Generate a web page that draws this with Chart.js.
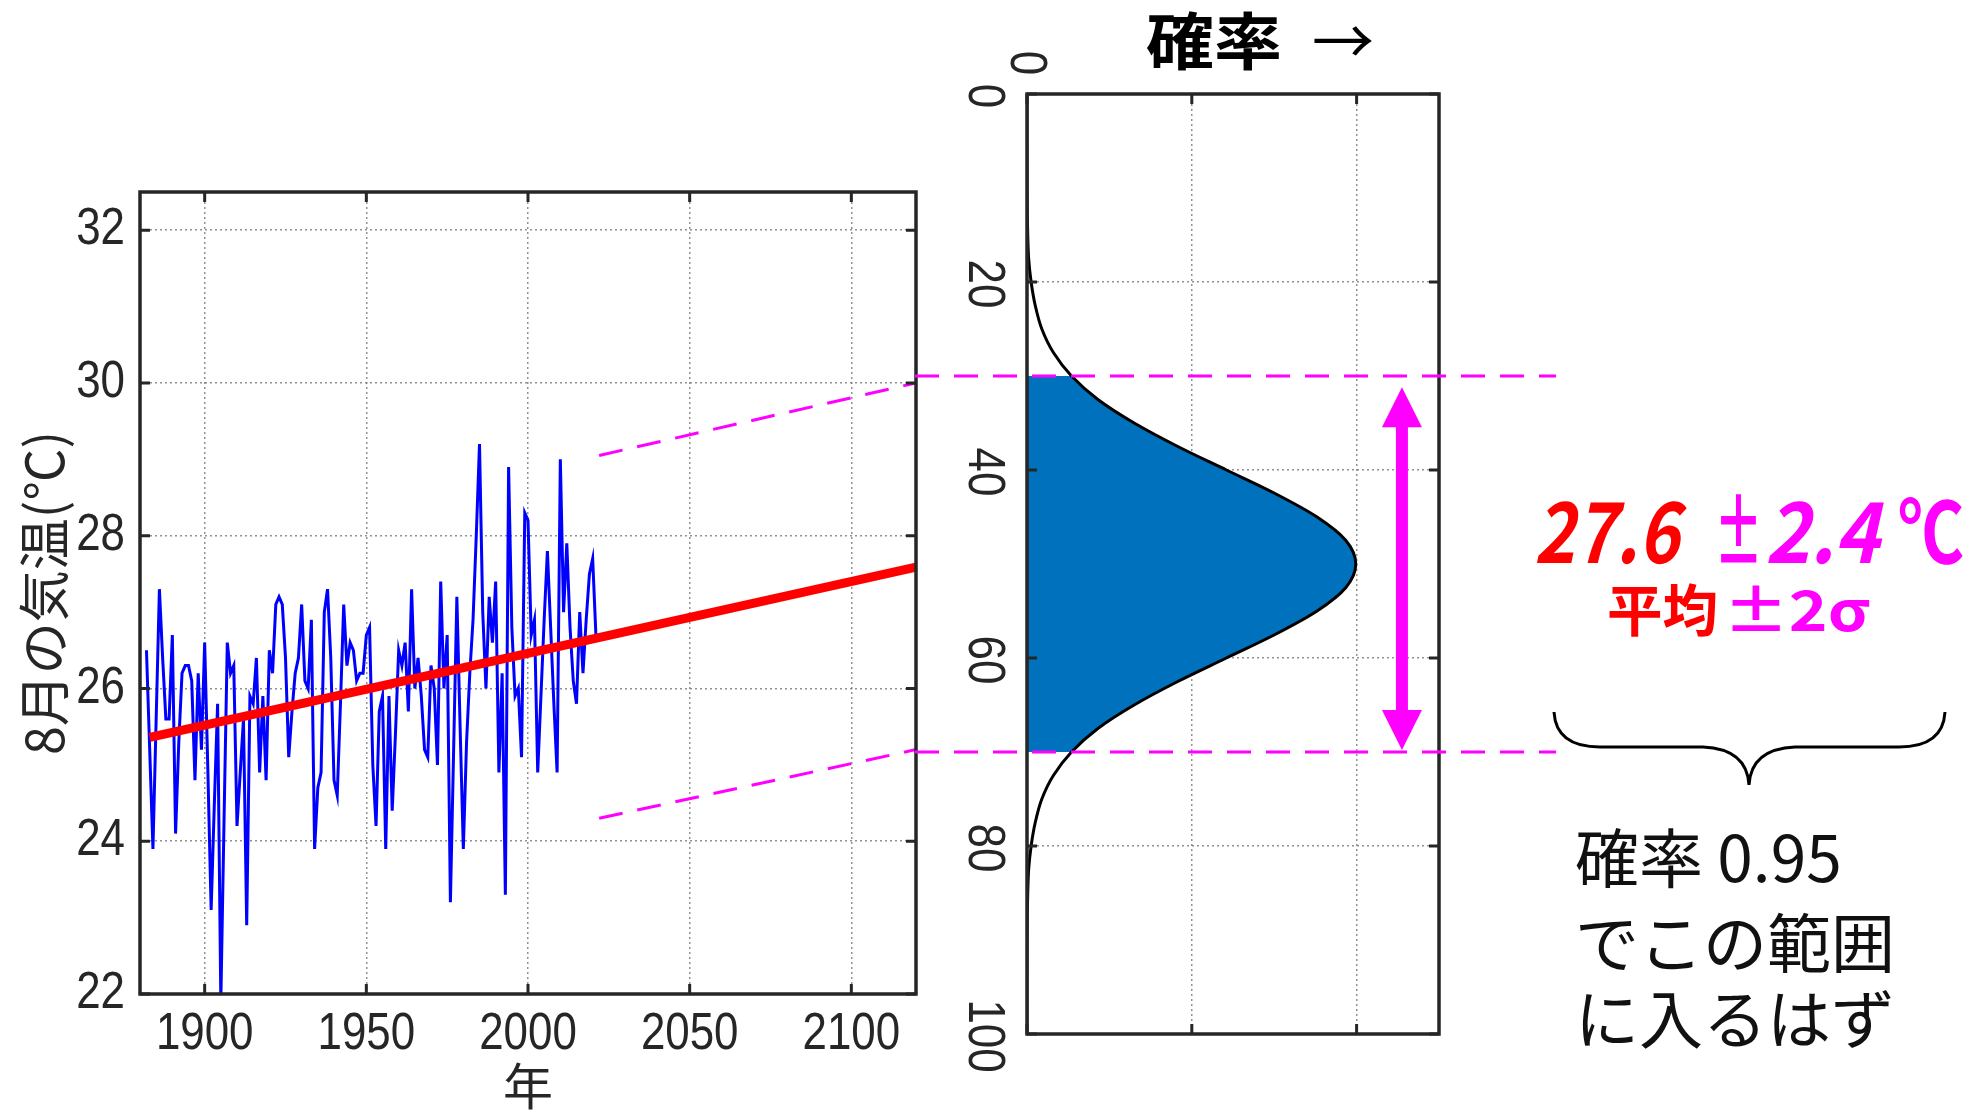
<!DOCTYPE html>
<html><head><meta charset="utf-8">
<script src="https://cdn.jsdelivr.net/npm/chart.js@4.4.0/dist/chart.umd.min.js"></script>
<style>
html,body{margin:0;padding:0;background:#fff;}
#wrap{position:relative;width:1984px;height:1111px;overflow:hidden;background:#fff;}
canvas{position:absolute;left:0;top:0;}
</style></head><body>
<div id="wrap"><canvas id="c1" width="1984" height="1111"></canvas><canvas id="c2" width="1984" height="1111"></canvas></div>
<script>
// ---------------- data ----------------
const years = [
1882,1883,1884,1885,1886,1887,1888,1889,1890,1891,
1892,1893,1894,1895,1896,1897,1898,1899,1900,1901,
1902,1903,1904,1905,1906,1907,1908,1909,1910,1911,
1912,1913,1914,1915,1916,1917,1918,1919,1920,1921,
1922,1923,1924,1925,1926,1927,1928,1929,1930,1931,
1932,1933,1934,1935,1936,1937,1938,1939,1940,1941,
1942,1943,1944,1945,1946,1947,1948,1949,1950,1951,
1952,1953,1954,1955,1956,1957,1958,1959,1960,1961,
1962,1963,1964,1965,1966,1967,1968,1969,1970,1971,
1972,1973,1974,1975,1976,1977,1978,1979,1980,1981,
1982,1983,1984,1985,1986,1987,1988,1989,1990,1991,
1992,1993,1994,1995,1996,1997,1998,1999,2000,2001,
2002,2003,2004,2005,2006,2007,2008,2009,2010,2011,
2012,2013,2014,2015,2016,2017,2018,2019,2020,2021];
const augTemp = [
26.5,25.2,23.9,25.6,27.3,26.4,25.6,25.6,26.7,24.1,
25.3,26.2,26.3,26.3,26.1,24.8,26.2,25.2,26.6,24.9,
23.1,24.5,25.8,21.9,24.3,26.6,26.2,26.3,24.2,24.9,
25.6,22.9,25.9,25.8,26.4,24.9,25.9,24.8,26.5,26.2,
27.1,27.2,27.1,26.4,25.1,25.7,26.2,26.4,27.1,26.1,
26.0,26.9,23.9,24.7,24.9,27.0,27.3,26.4,24.8,24.6,
25.8,27.1,26.3,26.6,26.5,26.1,26.2,26.2,26.7,26.8,
25.0,24.2,25.7,25.9,23.9,25.9,24.4,25.4,26.5,26.3,
26.6,25.7,27.3,26.0,26.4,25.9,25.2,25.1,26.3,26.0,
25.0,27.4,26.0,26.7,23.2,25.2,27.2,25.5,23.9,25.3,
26.2,26.9,28.0,29.2,27.0,26.0,27.2,26.6,27.4,24.9,
26.2,23.3,28.9,26.8,25.9,26.0,25.1,28.3,28.2,26.7,
26.9,24.9,25.9,26.9,27.8,26.8,25.8,24.9,29.0,27.0,
27.9,26.8,26.1,25.8,27.0,26.2,26.9,27.5,27.7,26.7];
const trendYears = [1883, 2120];
const trendTemp  = [25.36, 27.59];
const bandYears  = [2022, 2120];
const bandUpper  = [29.05, 30.0];
const bandLower  = [24.3, 25.2];
const yearTicks  = [1900, 1950, 2000, 2050, 2100];
const tempTicks  = [22, 24, 26, 28, 30, 32];

const probPos = [0,2.5,5,7.5,10,12.5,15,17.5,20,22.5,25,27.5,30,32.5,35,37.5,40,42.5,45,47.5,50,
                 52.5,55,57.5,60,62.5,65,67.5,70,72.5,75,77.5,80,82.5,85,87.5,90,92.5,95,97.5,100];
const probDensity = [0,0,0.000002,0.000005,0.000013,0.000035,0.00009,0.0002,0.0005,0.001,0.0018,0.0032,
                 0.0054,0.0086,0.0130,0.0183,0.0242,0.0301,0.0352,0.0387,0.0399,
                 0.0387,0.0352,0.0301,0.0242,0.0183,0.0130,0.0086,0.0054,0.0032,0.0018,0.001,
                 0.0005,0.0002,0.00009,0.000035,0.000013,0.000005,0.000002,0,0];
const probTicks    = [0, 20, 40, 60, 80, 100];
const densityTicks = [0, 0.02, 0.04];
const rangeLow = 30, rangeHigh = 70;

// ---------------- helpers ----------------
const INK = '#262626';
const GRID = 'rgba(110,110,110,0.75)';
const TICKFONT = '51px "Liberation Sans", Arial, sans-serif';
const JP = '"Noto Sans CJK JP", "Noto Sans", sans-serif';
function narrowText(ctx, txt, x, y, rot, align, sx) {
  ctx.save();
  ctx.translate(x, y);
  if (rot) ctx.rotate(rot);
  ctx.scale(sx || 0.86, 1);
  ctx.textAlign = align; ctx.textBaseline = 'middle';
  ctx.fillText(txt, 0, 0);
  ctx.restore();
}
function fitText(ctx, txt, x, y, font, color, width) {
  ctx.save();
  ctx.font = font; ctx.fillStyle = color;
  ctx.textAlign = 'left'; ctx.textBaseline = 'middle';
  const w = ctx.measureText(txt).width;
  ctx.translate(x, y);
  ctx.scale(width / w, 1);
  ctx.fillText(txt, 0, 0);
  ctx.restore();
}
const setTicks = arr => (s => { s.ticks = arr.map(v => ({value: v})); });

// ---------------- left chart ----------------
const leftDecor = {
  id: 'leftDecor',
  afterDraw(chart) {
    const {ctx, chartArea: a, scales: {x, y}} = chart;
    ctx.save();
    ctx.strokeStyle = INK; ctx.lineWidth = 3;
    ctx.beginPath();
    x.ticks.forEach(t => { const p = x.getPixelForValue(t.value);
      ctx.moveTo(p, a.bottom); ctx.lineTo(p, a.bottom - 10);
      ctx.moveTo(p, a.top); ctx.lineTo(p, a.top + 10); });
    y.ticks.forEach(t => { const p = y.getPixelForValue(t.value);
      ctx.moveTo(a.left, p); ctx.lineTo(a.left + 10, p);
      ctx.moveTo(a.right, p); ctx.lineTo(a.right - 10, p); });
    ctx.stroke();
    ctx.lineWidth = 3.5;
    ctx.strokeRect(a.left, a.top, a.right - a.left, a.bottom - a.top);
    ctx.fillStyle = INK; ctx.font = TICKFONT;
    x.ticks.forEach(t => narrowText(ctx, String(t.value), x.getPixelForValue(t.value), a.bottom + 41, 0, 'center'));
    y.ticks.forEach(t => narrowText(ctx, String(t.value), a.left - 15, y.getPixelForValue(t.value), 0, 'right'));
    ctx.restore();
  }
};

new Chart(document.getElementById('c1'), {
  type: 'line',
  data: { datasets: [
    { label: 'trend', data: trendYears.map((v, i) => ({x: v, y: trendTemp[i]})),
      borderColor: '#FF0000', borderWidth: 9, pointRadius: 0, borderCapStyle: 'butt', order: 0 },
    { label: 'August', data: years.map((v, i) => ({x: v, y: augTemp[i]})),
      borderColor: '#0000FF', borderWidth: 3, pointRadius: 0, tension: 0, order: 1 },
    { label: 'upper', data: bandYears.map((v, i) => ({x: v, y: bandUpper[i]})),
      borderColor: '#FF00FF', borderWidth: 3, borderDash: [24, 15], pointRadius: 0, order: 2 },
    { label: 'lower', data: bandYears.map((v, i) => ({x: v, y: bandLower[i]})),
      borderColor: '#FF00FF', borderWidth: 3, borderDash: [24, 15], pointRadius: 0, order: 2 }
  ]},
  options: {
    responsive: false, animation: false, events: [],
    layout: { padding: { left: 0, top: 192, right: 1068, bottom: 0 } },
    plugins: { legend: { display: false }, tooltip: { enabled: false } },
    scales: {
      x: { type: 'linear', min: 1880, max: 2120,
           afterBuildTicks: setTicks(yearTicks), afterFit: s => { s.height = 117; },
           ticks: { display: false },
           grid: { color: GRID, lineWidth: 1.5, drawTicks: false },
           border: { display: false, dash: [2, 3] },
           title: { display: true, text: '年', color: INK,
                    font: { family: JP, size: 50, lineHeight: 1 }, padding: { top: 0, bottom: 0 } } },
      y: { type: 'linear', min: 22, max: 32.5,
           afterBuildTicks: setTicks(tempTicks), afterFit: s => { s.width = 140; },
           ticks: { display: false },
           grid: { color: GRID, lineWidth: 1.5, drawTicks: false },
           border: { display: false, dash: [2, 3] },
           title: { display: true, text: '8月の気温(℃)', color: INK,
                    font: { family: JP, size: 52, lineHeight: 1 }, padding: { top: 18, bottom: 0 } } }
    }
  },
  plugins: [leftDecor]
});

// ---------------- right chart ----------------
const rightDecor = {
  id: 'rightDecor',
  afterDraw(chart) {
    const {ctx, chartArea: a, scales: {x, y}} = chart;
    ctx.save();
    // inward ticks + box
    ctx.strokeStyle = INK; ctx.lineWidth = 3;
    ctx.beginPath();
    x.ticks.forEach(t => { const p = x.getPixelForValue(t.value);
      ctx.moveTo(p, a.bottom); ctx.lineTo(p, a.bottom - 10);
      ctx.moveTo(p, a.top); ctx.lineTo(p, a.top + 10); });
    y.ticks.forEach(t => { const p = y.getPixelForValue(t.value);
      ctx.moveTo(a.left, p); ctx.lineTo(a.left + 10, p);
      ctx.moveTo(a.right, p); ctx.lineTo(a.right - 10, p); });
    ctx.stroke();
    ctx.lineWidth = 3.5;
    ctx.strokeRect(a.left, a.top, a.right - a.left, a.bottom - a.top);
    // rotated tick labels
    ctx.fillStyle = INK; ctx.font = TICKFONT;
    y.ticks.forEach(t => narrowText(ctx, String(t.value), a.left - 44, y.getPixelForValue(t.value) + 2, Math.PI / 2, 'center'));
    narrowText(ctx, String(x.ticks[0].value), x.getPixelForValue(x.ticks[0].value) - 2, a.top - 31, Math.PI / 2, 'center');
    // magenta dashed range lines
    ctx.strokeStyle = '#FF00FF'; ctx.lineWidth = 3; ctx.setLineDash([24, 15]);
    ctx.beginPath();
    [rangeLow, rangeHigh].forEach(v => { const p = y.getPixelForValue(v);
      ctx.moveTo(915, p); ctx.lineTo(1556, p); });
    ctx.stroke();
    ctx.setLineDash([]);
    // double arrow
    const ax = x.getPixelForValue(0.0455), y1 = y.getPixelForValue(31.2), y2 = y.getPixelForValue(69.8);
    ctx.fillStyle = '#FF00FF';
    ctx.fillRect(ax - 6, y1 + 30, 12, (y2 - y1) - 60);
    ctx.beginPath(); ctx.moveTo(ax, y1); ctx.lineTo(ax + 20, y1 + 40); ctx.lineTo(ax - 20, y1 + 40); ctx.closePath(); ctx.fill();
    ctx.beginPath(); ctx.moveTo(ax, y2); ctx.lineTo(ax + 20, y2 - 40); ctx.lineTo(ax - 20, y2 - 40); ctx.closePath(); ctx.fill();
    // title
    fitText(ctx, '確率', 1146, 41, 'bold 62px ' + JP, '#000', 136);
    fitText(ctx, '→', 1312, 41, '62px ' + JP, '#000', 62);
    // annotations
    fitText(ctx, '27.6', 1534, 531, 'italic bold 84px ' + JP, '#FF0000', 145);
    fitText(ctx, '±', 1714, 531, 'bold 84px ' + JP, '#FF00FF', 49);
    fitText(ctx, '2.4', 1765, 531, 'italic bold 84px ' + JP, '#FF00FF', 114);
    fitText(ctx, '℃', 1898, 531, 'bold 84px ' + JP, '#FF00FF', 66);
    fitText(ctx, '平均', 1607, 610, 'bold 56px ' + JP, '#FF0000', 111);
    fitText(ctx, '±2σ', 1723, 610, 'bold 56px ' + JP, '#FF00FF', 147);
    // brace
    ctx.strokeStyle = '#000'; ctx.lineWidth = 3;
    ctx.beginPath();
    ctx.moveTo(1554, 712);
    ctx.quadraticCurveTo(1556, 747, 1600, 747);
    ctx.lineTo(1703, 747);
    ctx.quadraticCurveTo(1747, 749, 1749, 785);
    ctx.quadraticCurveTo(1751, 749, 1795, 747);
    ctx.lineTo(1899, 747);
    ctx.quadraticCurveTo(1943, 747, 1945, 712);
    ctx.stroke();
    ctx.fillStyle = '#111'; ctx.font = '64px ' + JP; ctx.textAlign = 'left'; ctx.textBaseline = 'middle';
    ctx.fillText('確率 0.95', 1575, 858);
    ctx.fillText('でこの範囲', 1575, 943);
    ctx.fillText('に入るはず', 1575, 1019);
    ctx.restore();
  }
};

const curvePts = probPos.map((v, i) => ({x: probDensity[i], y: v}));
const fillPts = probPos.map((v, i) => ({x: probDensity[i], y: v})).filter(p => p.y >= rangeLow && p.y <= rangeHigh);

new Chart(document.getElementById('c2'), {
  type: 'line',
  data: { datasets: [
    { label: 'pdf', data: curvePts, borderColor: '#000', borderWidth: 3, pointRadius: 0,
      cubicInterpolationMode: 'monotone', fill: false, order: 0 },
    { label: 'range', data: fillPts, borderColor: 'rgba(0,0,0,0)', borderWidth: 0, pointRadius: 0,
      backgroundColor: '#0072BD', cubicInterpolationMode: 'monotone', fill: 'origin', order: 1 }
  ]},
  options: {
    indexAxis: 'y', responsive: false, animation: false, events: [],
    layout: { padding: { left: 927, top: 94, right: 545, bottom: 77 } },
    plugins: { legend: { display: false }, tooltip: { enabled: false } },
    scales: {
      x: { type: 'linear', position: 'bottom', min: 0, max: 0.05,
           afterBuildTicks: setTicks(densityTicks), afterFit: s => { s.height = 0; },
           ticks: { display: false },
           grid: { color: GRID, lineWidth: 1.5, drawTicks: false },
           border: { display: false, dash: [2, 3] } },
      y: { type: 'linear', position: 'left', min: 0, max: 100, reverse: true,
           afterBuildTicks: setTicks(probTicks), afterFit: s => { s.width = 100; },
           ticks: { display: false },
           grid: { color: GRID, lineWidth: 1.5, drawTicks: false },
           border: { display: false, dash: [2, 3] } }
    }
  },
  plugins: [rightDecor]
});
</script>
</body></html>
